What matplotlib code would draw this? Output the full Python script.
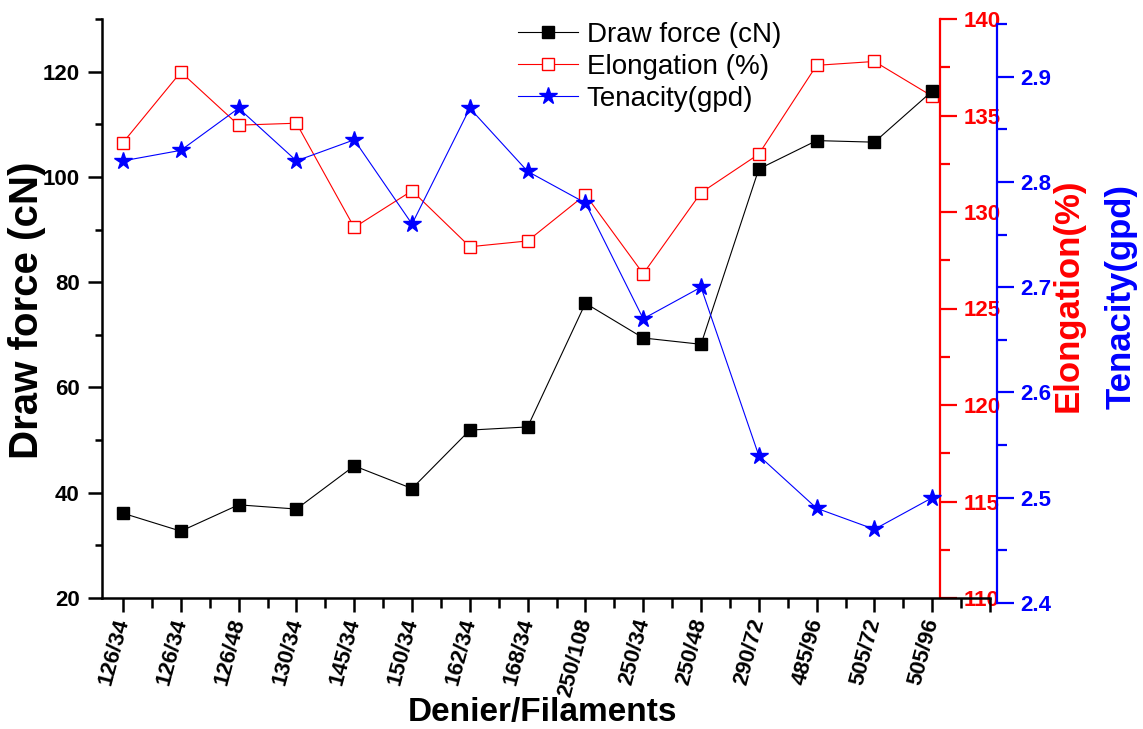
import numpy as np
import matplotlib
matplotlib.use("Agg")
import matplotlib.pyplot as plt
from matplotlib.ticker import MultipleLocator

plt.rcParams['font.family'] = ['Liberation Sans', 'DejaVu Sans']

# datos
categorias = ["126/34", "126/34", "126/48", "130/34", "145/34", "150/34", "162/34", "168/34",
              "250/108", "250/34", "250/48", "290/72", "485/96", "505/72", "505/96"]
draw_force = [36.1, 32.7, 37.7, 36.9, 45.1, 40.8, 51.9, 52.5, 76.0, 69.4, 68.2, 101.5, 106.9, 106.6, 116.3]
elongacion = [133.6, 137.25, 134.5, 134.6, 129.2, 131.1, 128.2, 128.5, 130.9, 126.8, 131.0, 133.0, 137.6, 137.8, 136.0]
tenacidad = [2.82, 2.83, 2.87, 2.82, 2.84, 2.76, 2.87, 2.81, 2.78, 2.67, 2.70, 2.54, 2.49, 2.47, 2.50]

W, H = 1143, 729
x = np.arange(1, len(categorias) + 1)
x0, x1 = 0.636, 16.0
escala = (990 - 102) / (x1 - x0)

fig = plt.figure(figsize=(W / 100, H / 100), dpi=100)

# eje principal (draw force)
ax = fig.add_axes([102 / W, (H - 598) / H, 888 / W, 579 / H])
ax.set_xlim(x0, x1)
ax.set_ylim(20, 130)
ax.spines['top'].set_visible(False)
ax.spines['right'].set_visible(False)
for s in ['left', 'bottom']:
    ax.spines[s].set_linewidth(1.8)
ax.yaxis.set_major_locator(MultipleLocator(20))
ax.yaxis.set_minor_locator(MultipleLocator(10))
ax.set_xticks(list(x) + [16])
ax.set_xticklabels(categorias + [""], rotation=75, ha='right', va='center',
                   rotation_mode='anchor', fontsize=16, fontweight='bold')
ax.xaxis.set_minor_locator(MultipleLocator(0.5))
ax.tick_params(axis='x', which='major', length=10, width=1.8, pad=5, direction='out')
ax.tick_params(axis='x', which='minor', length=7, width=1.8, direction='out')
ax.tick_params(axis='y', which='major', length=10, width=1.8, pad=6, labelsize=16)
ax.tick_params(axis='y', which='minor', length=5, width=1.8)
for t in ax.get_yticklabels():
    t.set_fontweight('bold')

# eje rojo (elongacion)
ax2 = ax.twinx()
ax2.set_ylim(110, 140)
for s in ['top', 'left', 'bottom']:
    ax2.spines[s].set_visible(False)
ax2.spines['right'].set_position(('axes', (940 - 102) / 888))
ax2.spines['right'].set_color('red')
ax2.spines['right'].set_linewidth(1.6)
ax2.yaxis.set_major_locator(MultipleLocator(5))
ax2.yaxis.set_minor_locator(MultipleLocator(2.5))
ax2.tick_params(axis='y', which='major', colors='red', length=12, width=1.6, pad=5, labelsize=16)
ax2.tick_params(axis='y', which='minor', colors='red', length=7, width=1.6)
for t in ax2.get_yticklabels():
    t.set_fontweight('bold')

# eje azul (tenacidad), un poco desplazado como en el original
ax3 = fig.add_axes([102 / W, (H - 603) / H, 895 / W, 579 / H])
ax3.set_xlim(x0, x0 + 895 / escala)
ax3.set_ylim(2.4, 2.95)
ax3.patch.set_visible(False)
for s in ['top', 'left', 'bottom']:
    ax3.spines[s].set_visible(False)
ax3.spines['right'].set_color('blue')
ax3.spines['right'].set_linewidth(1.6)
ax3.xaxis.set_visible(False)
ax3.yaxis.tick_right()
ax3.yaxis.set_major_locator(MultipleLocator(0.1))
ax3.yaxis.set_minor_locator(MultipleLocator(0.05))
ax3.tick_params(axis='y', which='major', colors='blue', length=12, width=1.6, pad=5, labelsize=16)
ax3.tick_params(axis='y', which='minor', colors='blue', length=7, width=1.6)
for t in ax3.get_yticklabels():
    t.set_fontweight('bold')

# orden de dibujo: rojo abajo, negro, azul arriba
ax2.set_zorder(1)
ax.set_zorder(2)
ax.patch.set_visible(False)
ax3.set_zorder(3)

l1, = ax.plot(x, draw_force, color='k', lw=0.8, marker='s', ms=9, mfc='k', mec='k',
              label='Draw force (cN)')
l2, = ax2.plot(x, elongacion, color='red', lw=0.8, marker='s', ms=8.5, mfc='white', mec='red',
               mew=1.0, label='Elongation (%)')
l3, = ax3.plot(x, tenacidad, color='blue', lw=0.8, marker='*', ms=13, mfc='blue', mec='blue',
               label='Tenacity(gpd)')

fig.legend(handles=[l1, l2, l3], loc='upper left', bbox_to_anchor=(518 / W, 1 - 22 / H),
           frameon=False, fontsize=20, handlelength=2.15, handletextpad=0.32,
           labelspacing=0.22, borderpad=0, borderaxespad=0)

fig.text(27 / W, 1 - 310 / H, 'Draw force (cN)', rotation=90, ha='center', va='center',
         fontsize=29, fontweight='bold')
fig.text(542 / W, 1 - 712 / H, 'Denier/Filaments', ha='center', va='center',
         fontsize=24, fontweight='bold')
fig.text(1068 / W, 1 - 295 / H, 'Elongation(%)', rotation=90, ha='center', va='center',
         fontsize=25, fontweight='bold', color='red')
fig.text(1121 / W, 1 - 296 / H, 'Tenacity(gpd)', rotation=90, ha='center', va='center',
         fontsize=25, fontweight='bold', color='blue')

fig.savefig('out.png', dpi=100)
